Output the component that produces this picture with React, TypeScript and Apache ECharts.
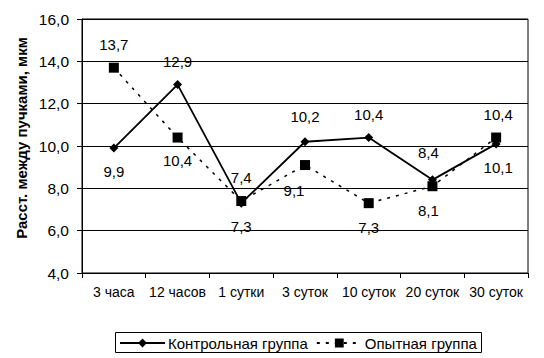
import React, { useEffect, useRef } from "react";
import * as echarts from "echarts";

const categories = ["3 часа", "12 часов", "1 сутки", "3 суток", "10 суток", "20 суток", "30 суток"];
const controlValues = [9.9, 12.9, 7.3, 10.2, 10.4, 8.4, 10.1];
const experimentalValues = [13.7, 10.4, 7.4, 9.1, 7.3, 8.1, 10.4];
const seriesNames = ["Контрольная группа", "Опытная группа"];
const yAxisTitle = "Расст. между пучками, мкм";

// label placement (styling only)
const controlLabelPos = ["bottom", "top", "bottom", "top", "top", "top", "bottom"];
const controlLabelDist = [11, 11, 11, 13, 11, 15, 12];
const controlLabelDx = [0, 0, 0, 0, 0, -4, 2];
const expLabelPos = ["top", "bottom", "top", "bottom", "bottom", "bottom", "top"];
const expLabelDist = [11, 10, 11, 13, 12, 12, 11];
const expLabelDx = [0, 0, 0, -11, 0, -4, 2];

const FONT = "'Liberation Sans', Arial, sans-serif";
const fmt = (v: number) => v.toFixed(1).replace(".", ",");

export default function App() {
  const ref = useRef<HTMLDivElement>(null);
  useEffect(() => {
    if (!ref.current) return;
    const chart = echarts.init(ref.current, undefined, { renderer: "svg" });
    const mk = (vals: number[], pos: string[], dist: number[], dx: number[]) =>
      vals.map((v, i) => ({
        value: v,
        label: { position: pos[i], distance: dist[i], offset: [dx[i], 0] },
      }));
    chart.setOption({
      animation: false,
      backgroundColor: "#fff",
      textStyle: { fontFamily: FONT },
      grid: { left: 82, right: 16, top: 19, bottom: 85, show: true, borderColor: "#000", borderWidth: 1 },
      xAxis: {
        type: "category",
        data: categories,
        boundaryGap: true,
        axisLine: { lineStyle: { color: "#000", width: 1 } },
        axisTick: { show: true, length: 5, lineStyle: { color: "#000" } },
        axisLabel: { color: "#000", fontSize: 14, fontFamily: FONT, margin: 12, interval: 0 },
      },
      yAxis: {
        type: "value",
        min: 4,
        max: 16,
        interval: 2,
        axisLine: { show: true, lineStyle: { color: "#000", width: 1 } },
        axisTick: { show: true, length: 5, lineStyle: { color: "#000" } },
        splitLine: { show: true, lineStyle: { color: "#000", width: 1 } },
        axisLabel: { color: "#000", fontSize: 15.5, fontFamily: FONT, margin: 13, formatter: (v: number) => fmt(v) },
      },
      legend: {
        left: 119,
        top: 335,
        data: seriesNames,
        padding: 0,
        itemWidth: 45,
        itemHeight: 11,
        itemGap: 8,
        textStyle: { color: "#000", fontSize: 15, fontFamily: FONT, lineHeight: 16, padding: [0, 0, 0, -2] },
      },
      graphic: [
        {
          type: "rect",
          shape: { x: 115.5, y: 332.5, width: 366, height: 20 },
          style: { fill: "none", stroke: "#000", lineWidth: 1 },
          silent: true,
        },
        {
          type: "text",
          x: 21,
          y: 138,
          rotation: Math.PI / 2,
          style: {
            text: yAxisTitle,
            font: `bold 15px ${FONT}`,
            fill: "#000",
            align: "center",
            verticalAlign: "middle",
          },
        },
      ],
      series: [
        {
          name: seriesNames[0],
          type: "line",
          data: mk(controlValues, controlLabelPos, controlLabelDist, controlLabelDx),
          symbol: "diamond",
          symbolSize: 9,
          itemStyle: { color: "#000" },
          lineStyle: { color: "#000", width: 1.8 },
          label: { show: true, color: "#000", fontSize: 15, fontFamily: FONT, lineHeight: 15, formatter: (p: any) => fmt(p.value) },
          z: 3,
        },
        {
          name: seriesNames[1],
          type: "line",
          data: mk(experimentalValues, expLabelPos, expLabelDist, expLabelDx),
          symbol: "rect",
          symbolSize: 10,
          itemStyle: { color: "#000" },
          lineStyle: { color: "#000", width: 1.5, type: [3, 6] },
          label: { show: true, color: "#000", fontSize: 15, fontFamily: FONT, lineHeight: 15, formatter: (p: any) => fmt(p.value) },
          z: 4,
        },
      ],
    });
    return () => chart.dispose();
  }, []);
  return <div ref={ref} style={{ position: "absolute", left: 0, top: 0, width: 544, height: 358 }} />;
}
